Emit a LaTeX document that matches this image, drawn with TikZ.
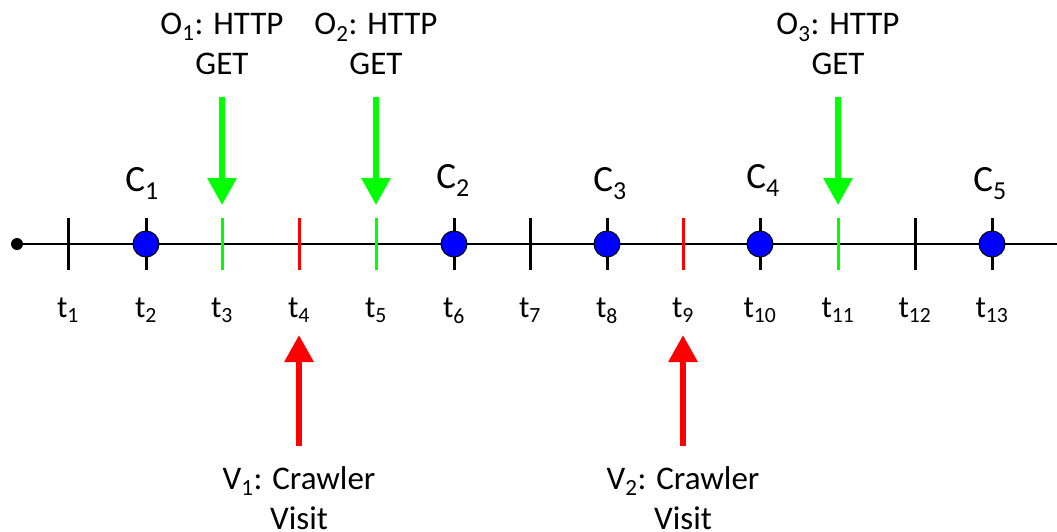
\documentclass[tikz,border=0pt]{standalone}
\usepackage{fontspec}
\setmainfont{Carlito}
\usetikzlibrary{arrows.meta}
\definecolor{tgreen}{RGB}{0,255,0}
\definecolor{tred}{RGB}{255,0,0}
\definecolor{tblue}{RGB}{0,0,255}
\tikzset{
  lbl/.style={font=\fontsize{33}{40}\selectfont, align=center, inner sep=0pt},
  tlbl/.style={font=\fontsize{31}{36}\selectfont, inner sep=0pt, anchor=base},
  clbl/.style={font=\fontsize{37}{40}\selectfont, inner sep=0pt, anchor=base},
  blacktick/.style={line width=3pt, black},
  greentick/.style={line width=3pt, tgreen},
  redtick/.style={line width=3pt, tred},
  event/.style={circle, fill=tblue, draw=black, line width=1pt, minimum size=26pt, inner sep=0pt},
  garrow/.style={line width=6pt, tgreen, -{Triangle[width=28pt,length=27pt]}},
  rarrow/.style={line width=6pt, tred, -{Triangle[width=28pt,length=27pt]}},
}
\begin{document}
\begin{tikzpicture}[x=1pt,y=-1pt]
\useasboundingbox (0,0) rectangle (1057,531);
% axis
\coordinate (start) at (17,244);
\coordinate (end) at (1057,244);
\draw[line width=2pt] (start) -- (end);
\fill (start) circle (6pt);
% tick positions
\foreach \i/\x in {1/68,2/146,3/222,4/299,5/376,6/454,7/530,8/607,9/683,10/760,11/838,12/915,13/992}{
  \coordinate (t\i) at (\x,244);
  \coordinate (t\i top) at (\x,218);
  \coordinate (t\i bot) at (\x,270);
  \node[tlbl] (lt\i) at (\x,317) {t\textsubscript{\i}};
}
% black ticks
\foreach \i in {1,2,6,7,8,10,12,13}{
  \draw[blacktick] (t\i top) -- (t\i bot);
}
\foreach \i in {3,5,11}{
  \draw[greentick] (t\i top) -- (t\i bot);
}
\foreach \i in {4,9}{
  \draw[redtick] (t\i top) -- (t\i bot);
}
% event circles
\foreach \i in {2,6,8,10,13}{
  \node[event] (c\i) at (t\i) {};
}
% C labels
\node[clbl] (C1) at (142,191) {C\textsubscript{1}};
\node[clbl] (C2) at (453,188) {C\textsubscript{2}};
\node[clbl] (C3) at (610,191) {C\textsubscript{3}};
\node[clbl] (C4) at (763,188) {C\textsubscript{4}};
\node[clbl] (C5) at (990,191) {C\textsubscript{5}};
% green arrows (HTTP GET)
\coordinate (g3s) at (222,97);  \coordinate (g3e) at (222,205);
\coordinate (g5s) at (376,97);  \coordinate (g5e) at (376,205);
\coordinate (g11s) at (838,97); \coordinate (g11e) at (838,205);
\draw[garrow] (g3s) -- (g3e);
\draw[garrow] (g5s) -- (g5e);
\draw[garrow] (g11s) -- (g11e);
\node[lbl] (O1) at (222,44) {O\textsubscript{1}: HTTP\\GET};
\node[lbl] (O2) at (376,44) {O\textsubscript{2}: HTTP\\GET};
\node[lbl] (O3) at (838,44) {O\textsubscript{3}: HTTP\\GET};
% red arrows (crawler visits)
\coordinate (r4s) at (299,446); \coordinate (r4e) at (299,335);
\coordinate (r9s) at (683,446); \coordinate (r9e) at (683,335);
\draw[rarrow] (r4s) -- (r4e);
\draw[rarrow] (r9s) -- (r9e);
\node[lbl] (V1) at (299,498) {V\textsubscript{1}: Crawler\\Visit};
\node[lbl] (V2) at (683,498) {V\textsubscript{2}: Crawler\\Visit};
\end{tikzpicture}
\end{document}
